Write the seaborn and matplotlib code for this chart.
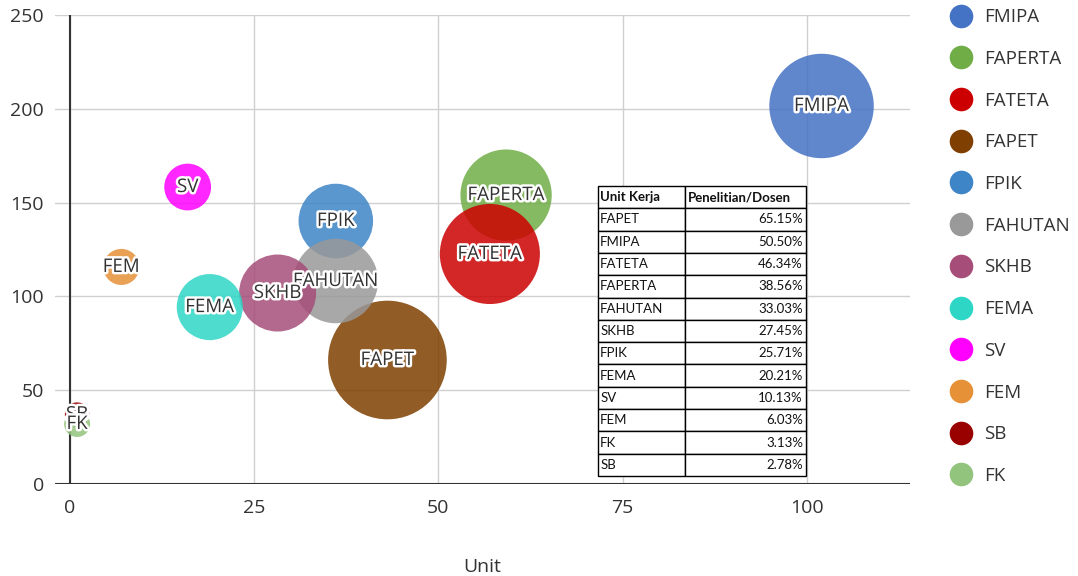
import matplotlib
matplotlib.use("Agg")
import matplotlib.pyplot as plt
import matplotlib.patheffects as pe
from matplotlib.lines import Line2D
import seaborn as sns
import pandas as pd

# ---- data ----
units = ["FMIPA", "FAPERTA", "FATETA", "FAPET", "FPIK", "FAHUTAN",
         "SKHB", "FEMA", "SV", "FEM", "SB", "FK"]
x_vals = [102.0, 59.2, 57.0, 43.1, 36.1, 36.1, 28.2, 19.0, 16.0, 7.0, 1.0, 1.0]
y_vals = [201.5, 154.0, 122.6, 66.1, 140.2, 108.2, 101.8, 94.3, 158.3, 115.7, 37.0, 32.0]
ratio = [50.50, 38.56, 46.34, 65.15, 25.71, 33.03, 27.45, 20.21, 10.13, 6.03, 2.78, 3.13]
colors = ["#4472C4", "#70AD47", "#CC0000", "#7F3F00", "#3D85C6", "#999999",
          "#A64D79", "#2ED6C6", "#FF00FF", "#E69138", "#990000", "#93C47D"]

table_header = ["Unit Kerja", "Penelitian/Dosen"]
table_units = ["FAPET", "FMIPA", "FATETA", "FAPERTA", "FAHUTAN", "SKHB",
               "FPIK", "FEMA", "SV", "FEM", "FK", "SB"]
table_values = ["65.15%", "50.50%", "46.34%", "38.56%", "33.03%", "27.45%",
                "25.71%", "20.21%", "10.13%", "6.03%", "3.13%", "2.78%"]

x_ticks = [0, 25, 50, 75, 100]
y_ticks = [0, 50, 100, 150, 200, 250]

df = pd.DataFrame({"unit": units, "x": x_vals, "y": y_vals, "ratio": ratio})
palette = dict(zip(units, colors))

sns.set_theme(style="white")
plt.rcParams["font.family"] = ["Open Sans", "DejaVu Sans"]

fig = plt.figure(figsize=(10.78, 5.76), dpi=100)
ax = fig.add_axes([55 / 1078, 1 - 484 / 576, (910 - 55) / 1078, (484 - 15) / 576])

k = 112
sns.scatterplot(data=df, x="x", y="y", hue="unit", size="ratio",
                hue_order=units, palette=palette,
                sizes=(min(ratio) * k, max(ratio) * k),
                alpha=0.85, linewidth=0, legend=False, ax=ax, zorder=3)

for u, xv, yv in zip(units, x_vals, y_vals):
    ax.text(xv, yv, u, ha="center", va="center", fontsize=13.5, color="#333333",
            zorder=5,
            path_effects=[pe.withStroke(linewidth=3.5, foreground="white")])

ax.set_xlim(-2, 114)
ax.set_ylim(0, 250)
ax.set_xticks(x_ticks)
ax.set_yticks(y_ticks)
ax.grid(True, color="#d0d0d0", linewidth=1, zorder=0)
ax.set_axisbelow(True)
for s in ax.spines.values():
    s.set_visible(False)
ax.axvline(0, color="#333333", linewidth=1.5, zorder=2)
ax.axhline(0, color="#333333", linewidth=1.5, zorder=2)
ax.tick_params(axis="both", length=0, labelsize=14, colors="#333333")
ax.tick_params(axis="y", pad=8)
ax.tick_params(axis="x", pad=11)
ax.set_xlabel("Unit", fontsize=14, color="#333333", labelpad=29)
ax.set_ylabel("")

# legend
handles = [Line2D([0], [0], marker="o", linestyle="", markersize=17,
                  markerfacecolor=c, markeredgewidth=0) for c in colors]
fig.legend(handles, units, loc="upper left", bbox_to_anchor=(0.867, 0.999),
           frameon=False, fontsize=13.5, labelspacing=1.265, handletextpad=0.25,
           labelcolor="#333333", borderaxespad=0)

# table
cell_text = [[u, v] for u, v in zip(table_units, table_values)]
tab = ax.table(cellText=cell_text, colLabels=table_header,
               colWidths=[87 / 208, 121 / 208],
               bbox=[(598 - 55) / 855, (484 - 476) / 469, 208 / 855, 290 / 469],
               zorder=6)
tab.auto_set_font_size(False)
for (r, c), cell in tab.get_celld().items():
    cell.set_edgecolor("black")
    cell.set_linewidth(1)
    cell.set_facecolor("white")
    txt = cell.get_text()
    txt.set_fontsize(9.5)
    txt.set_fontfamily("Lato")
    txt.set_color("#111111")
    if r == 0:
        txt.set_fontweight("bold")
        cell._loc = "left"
        txt.set_ha("left")
    elif c == 0:
        cell._loc = "left"
        txt.set_ha("left")
    else:
        cell._loc = "right"
        txt.set_ha("right")
    cell.PAD = 0.025

fig.savefig("out.png", dpi=100)
